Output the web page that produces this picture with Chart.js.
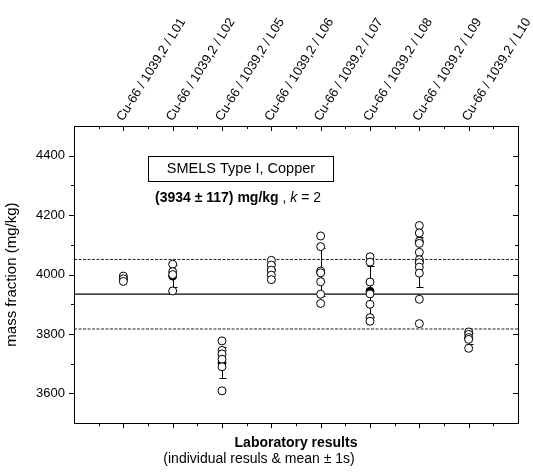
<!DOCTYPE html>
<html>
<head>
<meta charset="utf-8">
<script src="https://cdn.jsdelivr.net/npm/chart.js@4.4.1/dist/chart.umd.min.js"></script>
<style>
  html, body { margin: 0; padding: 0; background: #fff; }
</style>
</head>
<body>
<canvas id="chart" width="533" height="472"></canvas>
<script>
// lab codes (top axis)
const labs = [
  'Cu-66 / 1039,2 / L01', 'Cu-66 / 1039,2 / L02', 'Cu-66 / 1039,2 / L05', 'Cu-66 / 1039,2 / L06',
  'Cu-66 / 1039,2 / L07', 'Cu-66 / 1039,2 / L08', 'Cu-66 / 1039,2 / L09', 'Cu-66 / 1039,2 / L10'
];

// individual results, mg/kg
const resL01 = [3995, 3986, 3977];
const resL02 = [4035, 4010, 4000, 3945];
const resL05 = [3777, 3745, 3733, 3715, 3690, 3609];
const resL06 = [4048, 4032, 4015, 3998, 3983];
const resL07 = [4130, 4094, 4012, 4006, 3976, 3934, 3903];
const resL08 = [4060, 4042, 3975, 3935, 3900, 3855, 3843];
const resL09 = [4165, 4140, 4112, 4105, 4075, 4050, 4040, 4025, 4005, 3917, 3835];
const resL10 = [3807, 3799, 3788, 3782, 3752];

// lab means and standard deviations (mean ± 1s)
const labMeans = [3986, 3995, 3703, 4015, 4008, 3944, 4043, 3785];
const labSDs   = [8, 38, 52, 25, 80, 86, 85, 20];

// reference value and expanded uncertainty (k = 2)
const refValue = 3934;
const refU = 117;

const yTicks = [3600, 3800, 4000, 4200, 4400];

const FONT = "'Liberation Sans', Arial, sans-serif";
Chart.defaults.font.family = FONT;
Chart.defaults.color = '#000';

const labResults = [resL01, resL02, resL05, resL06, resL07, resL08, resL09, resL10];
const points = [];
labResults.forEach((arr, i) => arr.forEach(v => points.push({ x: i + 1, y: v })));
const meanPts = labMeans.map((m, i) => ({ x: i + 1, y: m }));

const framePlugin = {
  id: 'frame',
  beforeDatasetsDraw(chart) {
    // error bars: mean ± 1s
    const ctx = chart.ctx, xs = chart.scales.x, ys = chart.scales.y;
    ctx.save();
    ctx.strokeStyle = '#000';
    ctx.lineWidth = 1;
    labMeans.forEach((m, i) => {
      const px = Math.round(xs.getPixelForValue(i + 1)) + 0.5;
      const y1 = Math.round(ys.getPixelForValue(m - labSDs[i])) + 0.5;
      const y2 = Math.round(ys.getPixelForValue(m + labSDs[i])) + 0.5;
      ctx.beginPath();
      ctx.moveTo(px, y1); ctx.lineTo(px, y2);
      ctx.moveTo(px - 3, y1); ctx.lineTo(px + 4, y1);
      ctx.moveTo(px - 3, y2); ctx.lineTo(px + 4, y2);
      ctx.stroke();
    });
    ctx.restore();
  },
  afterDraw(chart) {
    const ctx = chart.ctx, xs = chart.scales.x, ys = chart.scales.y;
    const { left, right, top, bottom } = chart.chartArea;
    ctx.save();
    ctx.strokeStyle = '#000';
    ctx.lineWidth = 1;
    ctx.strokeRect(Math.round(left) + 0.5, Math.round(top) + 0.5, Math.round(right - left), Math.round(bottom - top));
    ctx.beginPath();
    // x ticks: bottom outward, top inward
    for (let v = xs.min + 0.5; v < xs.max; v += 0.5) {
      const px = Math.round(xs.getPixelForValue(v)) + 0.5;
      const len = Number.isInteger(v) ? 5 : 3;
      ctx.moveTo(px, bottom); ctx.lineTo(px, bottom + len);
      ctx.moveTo(px, top); ctx.lineTo(px, top + len);
    }
    // y ticks: left outward, right inward
    for (let v = ys.min + 100; v < ys.max; v += 100) {
      const py = Math.round(ys.getPixelForValue(v)) + 0.5;
      const len = yTicks.includes(v) ? 5 : 3;
      ctx.moveTo(left - len, py); ctx.lineTo(left, py);
      ctx.moveTo(right - len, py); ctx.lineTo(right, py);
    }
    ctx.stroke();

    // annotation box
    const bx = left + 74, by = top + 30;
    ctx.strokeRect(bx + 0.5, by + 0.5, 185, 25);
    ctx.fillStyle = '#000';
    ctx.textBaseline = 'middle';
    ctx.textAlign = 'center';
    ctx.font = '14.5px ' + FONT;
    ctx.fillText('SMELS Type I, Copper', bx + 93, by + 13);

    const parts = [
      ['(' + refValue + ' \u00b1 ' + refU + ') mg/kg', 'bold 14px ' + FONT],
      [' , ', '14px ' + FONT],
      ['k', 'italic 14px ' + FONT],
      [' = 2', '14px ' + FONT]
    ];
    let w = 0;
    parts.forEach(p => { ctx.font = p[1]; w += ctx.measureText(p[0]).width; });
    let tx = bx + 90 - w / 2;
    ctx.textAlign = 'left';
    parts.forEach(p => { ctx.font = p[1]; ctx.fillText(p[0], tx, by + 42); tx += ctx.measureText(p[0]).width; });
    ctx.restore();
  }
};

new Chart(document.getElementById('chart'), {
  type: 'scatter',
  data: {
    datasets: [
      {
        data: points,
        pointRadius: 4,
        pointHoverRadius: 4,
        pointBackgroundColor: '#fff',
        pointBorderColor: '#000',
        pointBorderWidth: 1,
        order: 1
      },
      {
        data: meanPts,
        pointRadius: 4,
        pointHoverRadius: 4,
        pointBackgroundColor: '#000',
        pointBorderColor: '#000',
        pointBorderWidth: 1,
        order: 2
      },
      {
        data: [{ x: 0, y: refValue }, { x: 9, y: refValue }],
        showLine: true, pointRadius: 0, borderColor: '#000', borderWidth: 1.2, order: 3
      },
      {
        data: [{ x: 0, y: refValue + refU }, { x: 9, y: refValue + refU }],
        showLine: true, pointRadius: 0, borderColor: '#222', borderWidth: 1, borderDash: [3, 1.5], order: 3
      },
      {
        data: [{ x: 0, y: refValue - refU }, { x: 9, y: refValue - refU }],
        showLine: true, pointRadius: 0, borderColor: '#222', borderWidth: 1, borderDash: [3, 1.5], order: 3
      }
    ]
  },
  options: {
    responsive: false,
    animation: false,
    layout: { padding: { left: 0, right: 15, top: 0, bottom: 0 } },
    plugins: {
      legend: { display: false },
      tooltip: { enabled: false },
      subtitle: {
        display: true,
        position: 'bottom',
        text: '(individual resuls & mean \u00b1 1s)',
        color: '#000',
        font: { size: 14, family: FONT },
        padding: { top: 0, bottom: 4 }
      }
    },
    scales: {
      x: {
        type: 'linear', position: 'bottom', min: 0, max: 9,
        grid: { display: false, drawTicks: false },
        border: { display: false },
        ticks: { display: false },
        title: {
          display: true, text: 'Laboratory results', color: '#000',
          font: { size: 14, weight: 'bold', family: FONT }, padding: 0
        },
        afterFit(s) { s.height = 28; }
      },
      x2: {
        type: 'linear', position: 'top', min: 0, max: 9,
        grid: { display: false, drawTicks: false },
        border: { display: false },
        ticks: {
          stepSize: 1, autoSkip: false, minRotation: 58, maxRotation: 58, padding: 5,
          font: { size: 13, family: FONT, lineHeight: 0.3 }, color: '#000',
          callback: v => (Number.isInteger(v) && v >= 1 && v <= labs.length) ? labs[v - 1] : ''
        },
        afterFit(s) { s.height = 126; }
      },
      y: {
        min: 3500, max: 4500,
        grid: { display: false, drawTicks: false },
        border: { display: false },
        ticks: {
          stepSize: 100, padding: 9, color: '#000',
          font: { size: 13, family: FONT },
          callback: v => yTicks.includes(v) ? v : ''
        },
        title: {
          display: true, text: 'mass fraction (mg/kg)', color: '#000',
          font: { size: 15, family: FONT }, padding: { top: 3, bottom: 0 }
        },
        afterFit(s) { s.width = 74; }
      }
    }
  },
  plugins: [framePlugin]
});
</script>
</body>
</html>
